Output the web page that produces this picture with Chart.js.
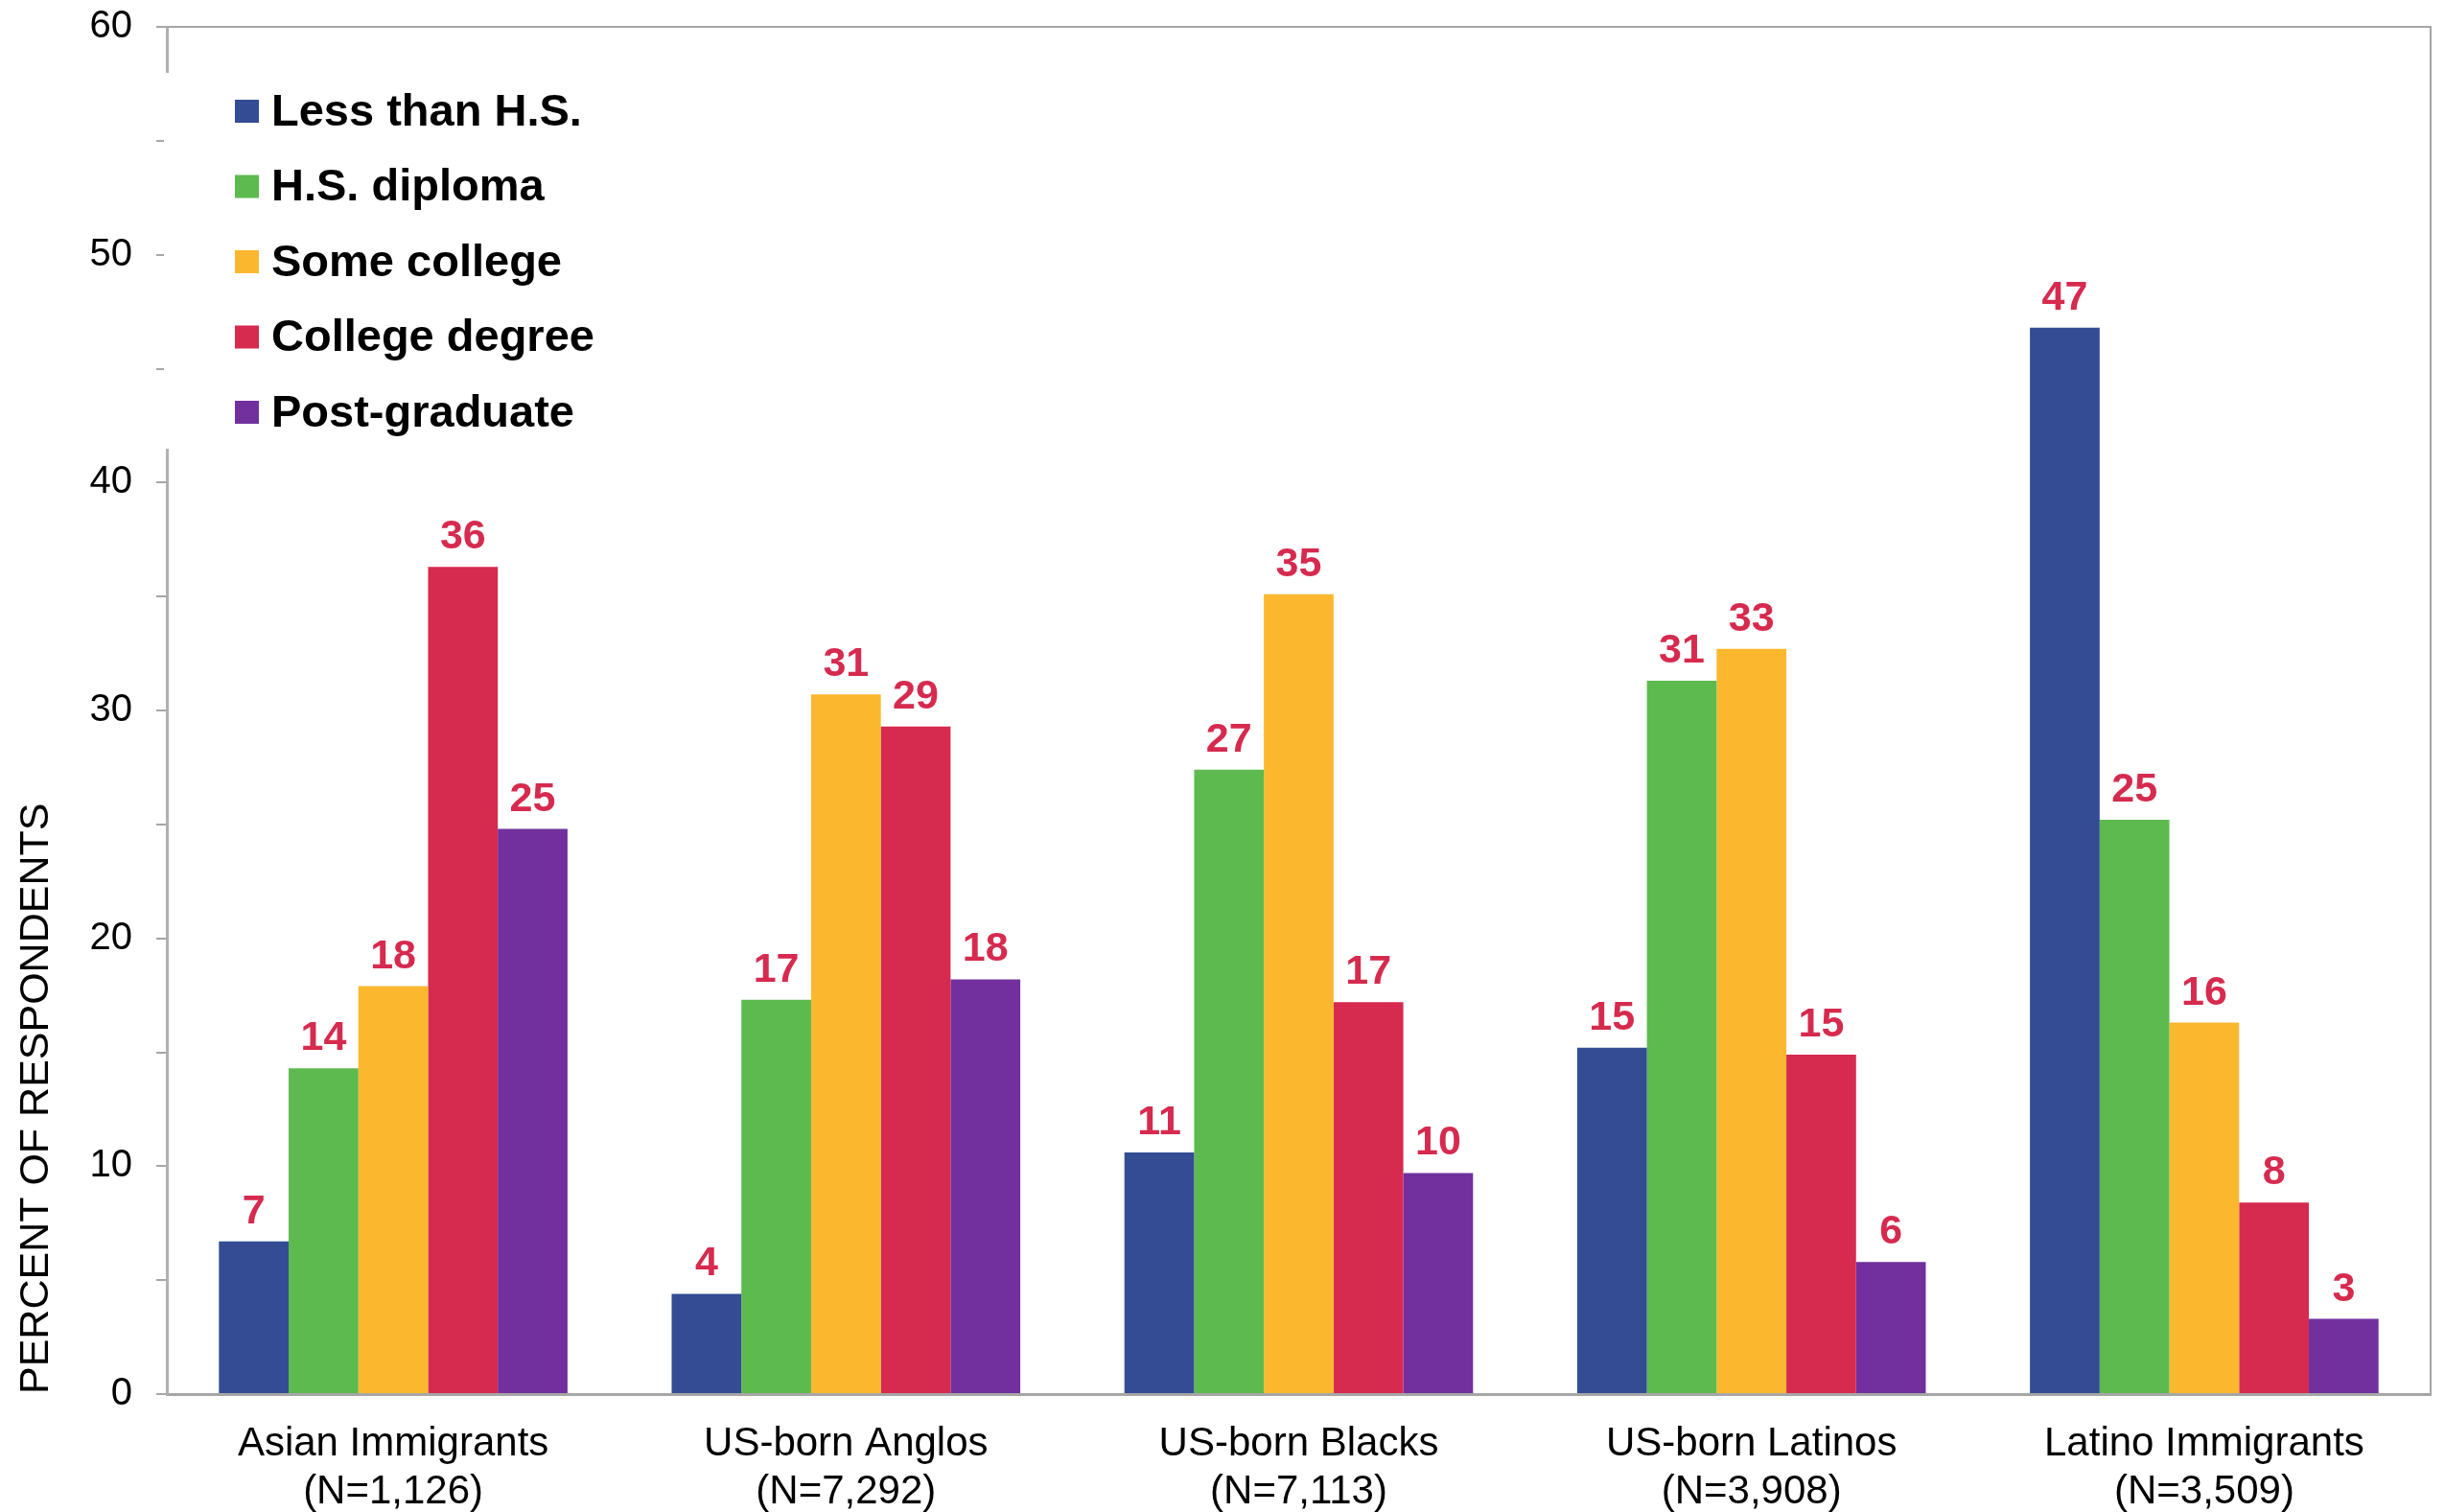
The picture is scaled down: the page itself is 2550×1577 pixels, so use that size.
<!DOCTYPE html>
<html>
<head>
<meta charset="utf-8">
<script src="https://cdn.jsdelivr.net/npm/chart.js@4.4.1/dist/chart.umd.min.js"></script>
<style>
    html, body { margin: 0; padding: 0; background: #fff; }
</style>
</head>
<body>
<canvas id="myChart" width="2550" height="1577"></canvas>
<script>
const groups = ['Asian Immigrants', 'US-born Anglos', 'US-born Blacks', 'US-born Latinos', 'Latino Immigrants'];
const sampleSizes = ['(N=1,126)', '(N=7,292)', '(N=7,113)', '(N=3,908)', '(N=3,509)'];
const levels = ['Less than H.S.', 'H.S. diploma', 'Some college', 'College degree', 'Post-graduate'];

// percent of respondents, one array per education level
const lessThanHS = [6.7, 4.4, 10.6, 15.2, 46.8];
const hsDiploma = [14.3, 17.3, 27.4, 31.3, 25.2];
const someCollege = [17.9, 30.7, 35.1, 32.7, 16.3];
const collegeDegree = [36.3, 29.3, 17.2, 14.9, 8.4];
const postGraduate = [24.8, 18.2, 9.7, 5.8, 3.3];

const yMin = 0;
const yMax = 60;
const yStep = 5;
const yLabelEvery = 10;

const colors = ['#334c94', '#5dba4f', '#fbb82e', '#d62a4e', '#71309e'];
const FONT = '"Liberation Sans", Arial, sans-serif';

const frame = {
    id: 'frame',
    beforeDatasetsDraw(chart) {
        const { ctx, chartArea: a } = chart;
        ctx.save();
        ctx.strokeStyle = '#a6a6a6';
        ctx.lineWidth = 2;
        ctx.beginPath();
        ctx.moveTo(a.left, a.top);
        ctx.lineTo(a.right, a.top);
        ctx.lineTo(a.right, a.bottom);
        ctx.stroke();
        ctx.restore();
    }
};

const valueLabels = {
    id: 'valueLabels',
    afterDatasetsDraw(chart) {
        const ctx = chart.ctx;
        ctx.save();
        ctx.font = 'bold 43px ' + FONT;
        ctx.fillStyle = '#d62a4e';
        ctx.textAlign = 'center';
        ctx.textBaseline = 'alphabetic';
        chart.data.datasets.forEach((ds, i) => {
            chart.getDatasetMeta(i).data.forEach((bar, j) => {
                ctx.fillText(Math.round(ds.data[j]), bar.x, bar.y - 19);
            });
        });
        ctx.restore();
    }
};

const boxLegend = {
    id: 'boxLegend',
    afterDraw(chart) {
        const { ctx, chartArea: a } = chart;
        ctx.save();
        ctx.fillStyle = '#fff';
        ctx.fillRect(a.left - 3, a.top + 48, 520, 392);
        ctx.font = 'bold 47px ' + FONT;
        ctx.textBaseline = 'middle';
        ctx.textAlign = 'left';
        chart.data.datasets.forEach((ds, i) => {
            const y = a.top + 88 + i * 78.5;
            ctx.fillStyle = ds.backgroundColor;
            ctx.fillRect(a.left + 71, y - 12, 25, 24);
            ctx.fillStyle = '#000';
            ctx.fillText(ds.label, a.left + 109, y + 2);
        });
        ctx.restore();
    }
};

const series = [lessThanHS, hsDiploma, someCollege, collegeDegree, postGraduate];

const ctx = document.getElementById('myChart').getContext('2d');
const myChart = new Chart(ctx, {
    type: 'bar',
    data: {
        labels: groups.map((g, i) => [g, sampleSizes[i]]),
        datasets: series.map((data, i) => ({
            label: levels[i],
            data: data,
            backgroundColor: colors[i],
            borderWidth: 0,
            categoryPercentage: 0.77,
            barPercentage: 1.0
        }))
    },
    options: {
        responsive: false,
        animation: false,
        devicePixelRatio: 1,
        layout: { padding: { top: 28, right: 15, bottom: 0, left: 0 } },
        plugins: {
            legend: { display: false },
            tooltip: { enabled: false }
        },
        scales: {
            x: {
                grid: { display: false, drawTicks: false },
                border: { color: '#a6a6a6', width: 3 },
                ticks: {
                    color: '#000',
                    font: { family: FONT, size: 42, lineHeight: 1.2 },
                    padding: 27,
                    maxRotation: 0
                },
                afterFit(scale) {
                    scale.height = 123;
                    scale.paddingLeft = 0;
                    scale.paddingRight = 0;
                }
            },
            y: {
                min: yMin,
                max: yMax,
                grid: { drawOnChartArea: false, color: '#a6a6a6', tickLength: 11, lineWidth: 2 },
                border: { color: '#b0b0b0', width: 3 },
                ticks: {
                    stepSize: yStep,
                    color: '#000',
                    font: { family: FONT, size: 40 },
                    padding: 25,
                    callback: v => (v % yLabelEvery === 0 ? v : '')
                },
                title: {
                    display: true,
                    text: 'PERCENT OF RESPONDENTS',
                    align: 'start',
                    color: '#000',
                    font: { family: FONT, size: 43 },
                    padding: { top: 12, bottom: 0 }
                },
                afterFit(scale) {
                    scale.width = 174;
                    scale.paddingTop = 0;
                    scale.paddingBottom = 0;
                }
            }
        }
    },
    plugins: [frame, valueLabels, boxLegend]
});
</script>
</body>
</html>
